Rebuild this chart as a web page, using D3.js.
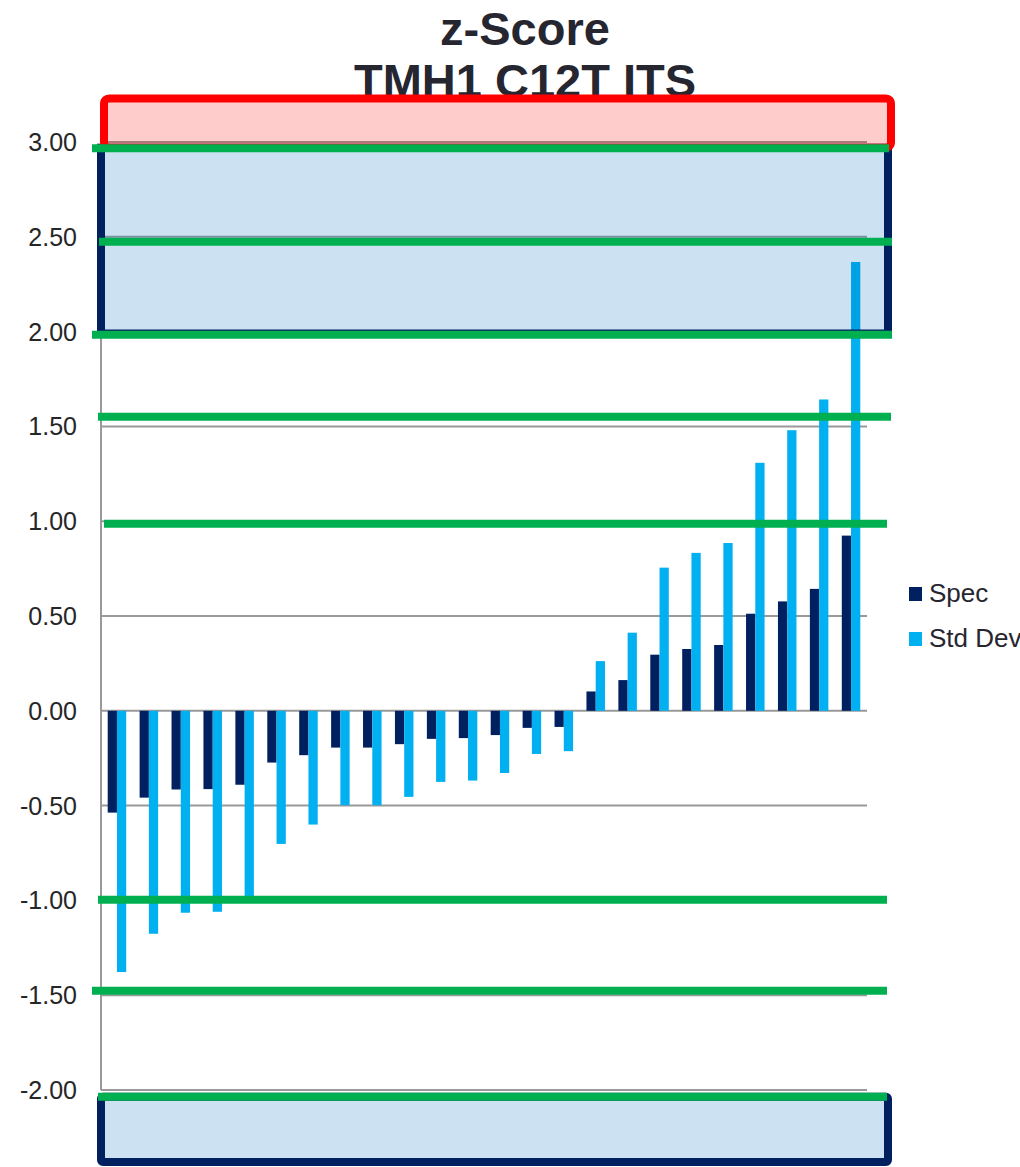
<!DOCTYPE html>
<html>
<head>
<meta charset="utf-8">
<script src="https://cdn.jsdelivr.net/npm/d3@7"></script>
<style>
  html, body { margin: 0; padding: 0; background: #fff; overflow: hidden; }
  svg { display: block; font-family: "Liberation Sans", Arial, sans-serif; }
</style>
</head>
<body>
<script>
// ---- data ----
const categories = d3.range(1, 25).map(String);
const seriesNames = ["Spec", "Std Dev"];
const specValues = [-0.537, -0.458, -0.415, -0.413, -0.39, -0.273, -0.234, -0.194, -0.194, -0.176, -0.148, -0.144,
                    -0.128, -0.09, -0.085, 0.102, 0.162, 0.296, 0.326, 0.347, 0.512, 0.577, 0.643, 0.924];
const stdDevValues = [-1.378, -1.176, -1.065, -1.06, -1.0, -0.702, -0.6, -0.498, -0.498, -0.454, -0.375, -0.368,
                      -0.328, -0.228, -0.213, 0.262, 0.412, 0.755, 0.833, 0.885, 1.308, 1.48, 1.642, 2.367];
const tickValues = [-2, -1.5, -1, -0.5, 0, 0.5, 1, 1.5, 2, 2.5, 3];
const titleLines = ["z-Score", "TMH1 C12T ITS"];
// annotation levels (hand-drawn overlay shapes, in z-score units)
const greenLevels = [2.967, 2.474, 1.983, 1.551, 0.986, -0.997, -1.477, -2.036];
const redBand = [3.23, 2.97];
const blueTopBand = [2.97, 1.99];
const blueBottomBand = [-2.035, -2.38];

const colors = { "Spec": "#002060", "Std Dev": "#00B0F0" };

const W = 1020, H = 1167;
const svg = d3.select("body").append("svg").attr("width", W).attr("height", H);

const y = d3.scaleLinear().domain([-2, 3]).range([1090, 142]);
const x0 = d3.scaleBand().domain(categories).range([101, 867]).padding(0);
const x1 = d3.scaleBand().domain(seriesNames)
  .range([x0.bandwidth() * 0.21, x0.bandwidth() * 0.79]).padding(0);

// gridlines
svg.append("g").selectAll("line").data(tickValues).join("line")
  .attr("x1", 101).attr("x2", 867)
  .attr("y1", d => y(d)).attr("y2", d => y(d))
  .attr("stroke", "#999").attr("stroke-width", 2);

// axis line
svg.append("line").attr("x1", 101).attr("x2", 101)
  .attr("y1", y(3)).attr("y2", y(-2))
  .attr("stroke", "#999").attr("stroke-width", 2);

// tick labels (plain hyphen for negatives)
const fmt = d3.format(".2f");
svg.append("g").selectAll("text").data(tickValues).join("text")
  .attr("x", 77).attr("y", d => y(d))
  .attr("text-anchor", "end").attr("dominant-baseline", "central")
  .attr("font-size", 25).attr("fill", "#262626")
  .text(d => fmt(d).replace("\u2212", "-"));

// bars
const rows = categories.map((c, i) => ({ cat: c, vals: [
  { key: "Spec", v: specValues[i] }, { key: "Std Dev", v: stdDevValues[i] }] }));
const groups = svg.append("g").selectAll("g").data(rows).join("g")
  .attr("transform", d => `translate(${x0(d.cat)},0)`);
groups.selectAll("rect").data(d => d.vals).join("rect")
  .attr("x", d => x1(d.key))
  .attr("width", x1.bandwidth())
  .attr("y", d => Math.min(y(d.v), y(0)))
  .attr("height", d => Math.abs(y(d.v) - y(0)))
  .attr("fill", d => colors[d.key]);

// title
svg.append("g").selectAll("text").data(titleLines).join("text")
  .attr("x", 525).attr("y", (d, i) => 45 + i * 52)
  .attr("text-anchor", "middle")
  .attr("font-size", 47).attr("font-weight", "bold").attr("fill", "#262630")
  .text(d => d);

// top blue box
svg.append("rect")
  .attr("x", 101).attr("width", 787)
  .attr("y", y(blueTopBand[0])).attr("height", y(blueTopBand[1]) - y(blueTopBand[0]))
  .attr("fill", "rgb(0,112,192)").attr("fill-opacity", 0.2)
  .attr("stroke", "#002060").attr("stroke-width", 8);

// bottom blue box
svg.append("rect")
  .attr("x", 101).attr("width", 787)
  .attr("y", y(blueBottomBand[0])).attr("height", y(blueBottomBand[1]) - y(blueBottomBand[0]))
  .attr("rx", 2)
  .attr("fill", "rgb(0,112,192)").attr("fill-opacity", 0.2)
  .attr("stroke", "#002060").attr("stroke-width", 8);

// red box
svg.append("rect")
  .attr("x", 104).attr("width", 787)
  .attr("y", y(redBand[0])).attr("height", y(redBand[1]) - y(redBand[0]))
  .attr("rx", 5)
  .attr("fill", "#FF0000").attr("fill-opacity", 0.2)
  .attr("stroke", "#FF0000").attr("stroke-width", 8);

// green lines
const greenExtents = [[92, 889], [99, 892], [92, 892], [98, 891], [104, 887], [98, 887], [92, 887], [98, 887]];
svg.append("g").selectAll("line").data(greenLevels).join("line")
  .attr("x1", (d, i) => greenExtents[i][0]).attr("x2", (d, i) => greenExtents[i][1])
  .attr("y1", d => y(d)).attr("y2", d => y(d))
  .attr("stroke", "#00B050").attr("stroke-width", 8);

// legend
const legend = svg.append("g").selectAll("g").data(seriesNames).join("g")
  .attr("transform", (d, i) => `translate(909,${587 + i * 45})`);
legend.append("rect").attr("width", 13).attr("height", 14).attr("fill", d => colors[d]);
legend.append("text").attr("x", 20).attr("y", 15)
  .attr("font-size", 26).attr("fill", "#262630").text(d => d);
</script>
</body>
</html>
